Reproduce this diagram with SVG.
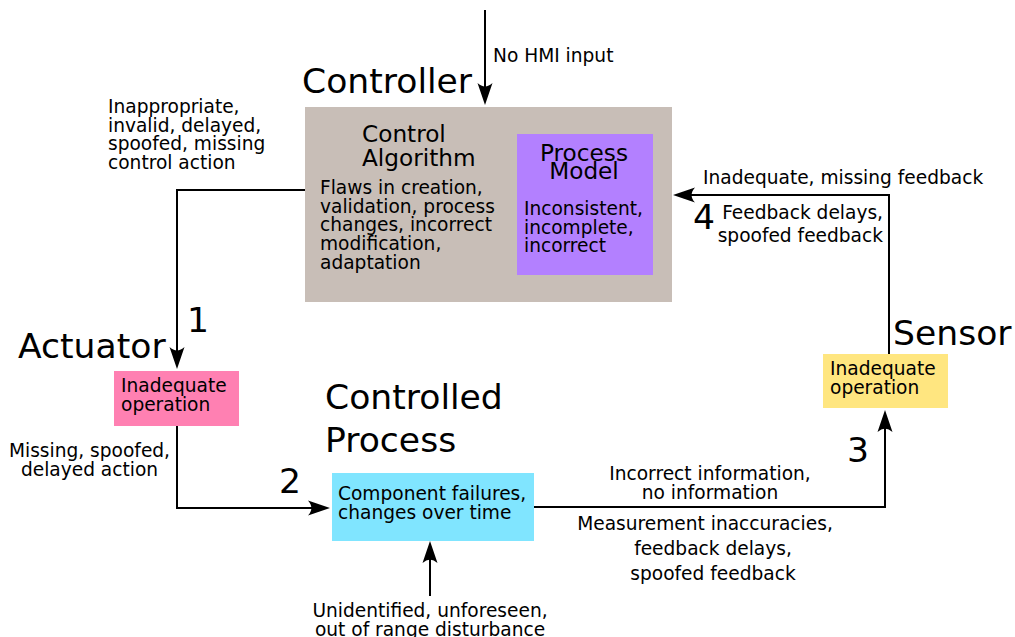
<svg xmlns="http://www.w3.org/2000/svg" width="1015" height="637" viewBox="0 0 1015 637">
<defs>
<marker id="arr" markerUnits="userSpaceOnUse" viewBox="-24 -9 26 18" markerWidth="26" markerHeight="18" refX="-10" refY="0" orient="auto">
<path d="M0,0 L-22,-7.5 C-17.5,-2.5 -17.5,2.5 -22,7.5 Z" fill="#000"/>
</marker>
<style>
text{font-family:"DejaVu Sans","Liberation Sans",sans-serif;fill:#000}
.big{font-size:34.6px}
.mid{font-size:23.2px}
.sm{font-size:18.6px}
.c{text-anchor:middle}
.e{text-anchor:end}
.ln{fill:none;stroke:#000;stroke-width:2}
</style>
</defs>
<rect width="1015" height="637" fill="#fff"/>

<g id="connectors">
<path class="ln" d="M485,10 V95" marker-end="url(#arr)"/>
<path class="ln" d="M305,190 H177 V359" marker-end="url(#arr)"/>
<path class="ln" d="M177,426 V508 H320" marker-end="url(#arr)"/>
<path class="ln" d="M430,596 V551" marker-end="url(#arr)"/>
<path class="ln" d="M534,507 H885 V420" marker-end="url(#arr)"/>
<path class="ln" d="M889,354 V195 H683" marker-end="url(#arr)"/>
</g>

<g id="labels">
<text class="sm" x="108" y="113">Inappropriate,</text>
<text class="sm" x="108" y="131.7">invalid, delayed,</text>
<text class="sm" x="108" y="150.4">spoofed, missing</text>
<text class="sm" x="108" y="169.1">control action</text>
<text class="sm" x="493" y="62">No HMI input</text>
<text class="big" x="187" y="332">1</text>
<text class="sm c" x="89.5" y="457">Missing, spoofed,</text>
<text class="sm c" x="89.5" y="476">delayed action</text>
<text class="big" x="279" y="493">2</text>
<text class="sm c" x="430" y="617">Unidentified, unforeseen,</text>
<text class="sm c" x="430" y="635.7">out of range disturbance</text>
<text class="sm c" x="710" y="480">Incorrect information,</text>
<text class="sm c" x="710" y="498.7">no information</text>
<text class="sm c" x="705" y="530">Measurement inaccuracies,</text>
<text class="sm c" x="713" y="555">feedback delays,</text>
<text class="sm c" x="713" y="580">spoofed feedback</text>
<text class="big" x="847" y="462">3</text>
<text class="sm" x="703" y="184">Inadequate, missing feedback</text>
<text class="big" x="693" y="229">4</text>
<text class="sm e" x="883" y="219">Feedback delays,</text>
<text class="sm e" x="883" y="242">spoofed feedback</text>
</g>

<g id="controller">
<text class="big" x="302" y="93">Controller</text>
<rect x="305" y="107" width="367" height="195" fill="#c8beb7"/>
<text class="mid" x="362" y="141.7">Control</text>
<text class="mid" x="362" y="166">Algorithm</text>
<text class="sm" x="320" y="194">Flaws in creation,</text>
<text class="sm" x="320" y="212.7">validation, process</text>
<text class="sm" x="320" y="231.4">changes, incorrect</text>
<text class="sm" x="320" y="250.1">modification,</text>
<text class="sm" x="320" y="268.8">adaptation</text>
</g>

<g id="process-model">
<rect x="517" y="134" width="136" height="141" fill="#b380ff"/>
<text class="mid c" x="584" y="161">Process</text>
<text class="mid c" x="584" y="179">Model</text>
<text class="sm" x="524" y="215">Inconsistent,</text>
<text class="sm" x="524" y="233.7">incomplete,</text>
<text class="sm" x="524" y="252.4">incorrect</text>
</g>

<g id="actuator">
<text class="big" x="18" y="358">Actuator</text>
<rect x="114" y="371" width="125" height="55" fill="#ff80b2"/>
<text class="sm" x="121" y="392">Inadequate</text>
<text class="sm" x="121" y="410.7">operation</text>
</g>

<g id="controlled-process">
<text class="big" x="325" y="409">Controlled</text>
<text class="big" x="325" y="452">Process</text>
<rect x="332" y="473" width="202" height="68" fill="#80e5ff"/>
<text class="sm" x="338" y="500">Component failures,</text>
<text class="sm" x="338" y="519">changes over time</text>
</g>

<g id="sensor">
<text class="big" x="893" y="345">Sensor</text>
<rect x="823" y="354" width="125" height="54" fill="#ffe680"/>
<text class="sm" x="830" y="375">Inadequate</text>
<text class="sm" x="830" y="393.7">operation</text>
</g>
</svg>
